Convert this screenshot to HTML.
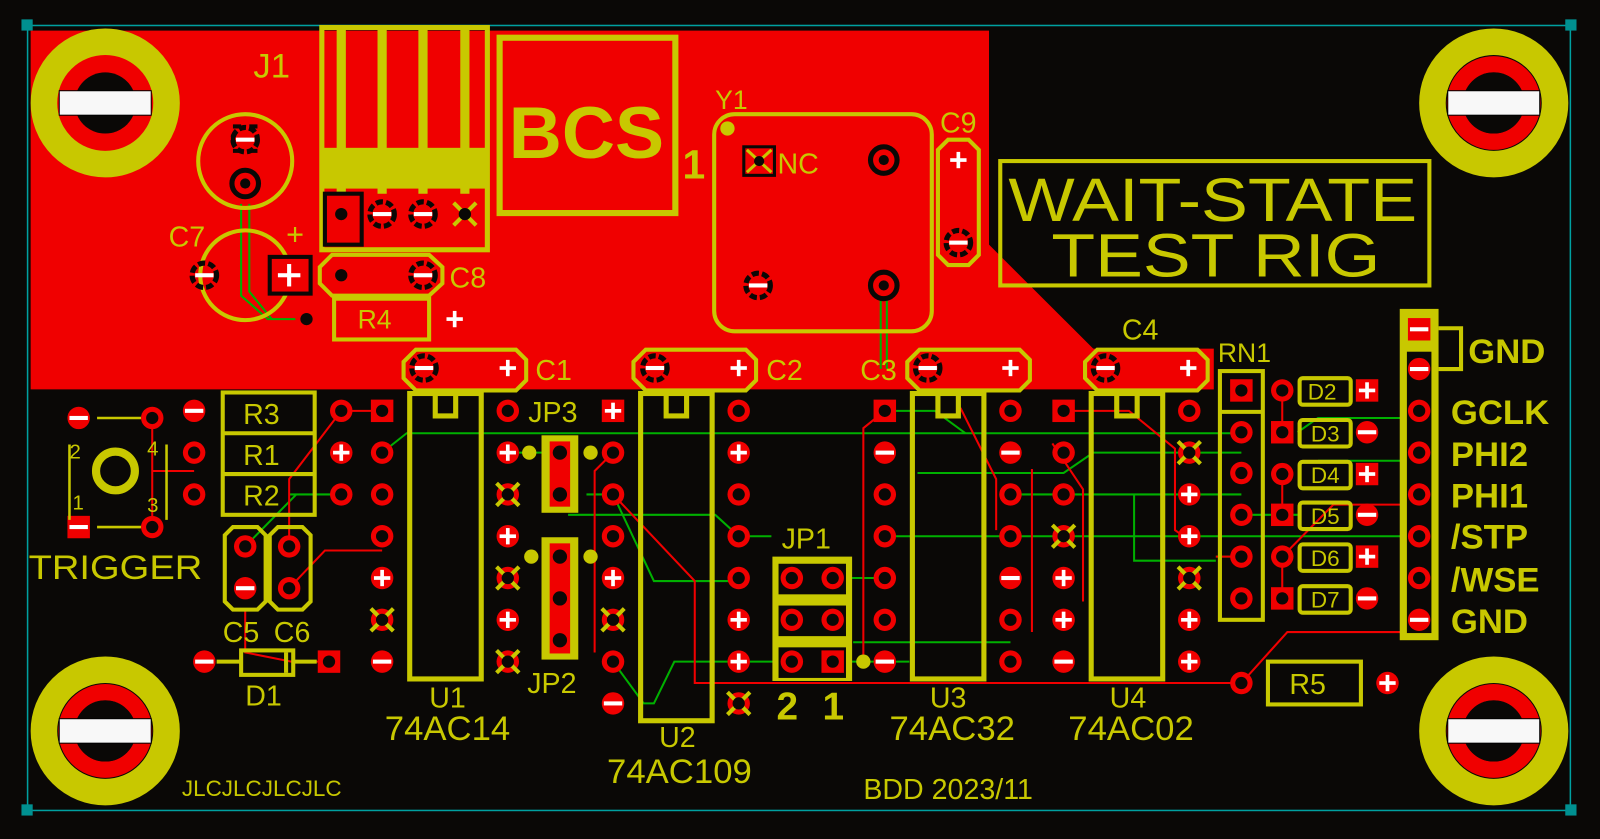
<!DOCTYPE html>
<html><head><meta charset="utf-8"><style>
html,body{margin:0;padding:0;background:#0a0806;overflow:hidden}
svg{display:block}
text{font-family:"Liberation Sans",sans-serif;fill:#c8c800}
</style></head><body>
<svg width="1600" height="839" viewBox="0 0 1566 823" preserveAspectRatio="none" xmlns="http://www.w3.org/2000/svg">
<defs>
<g id="p"><circle r="11" fill="#f00000"/><circle r="6" fill="#0a0806"/></g>
<g id="pp"><circle r="11" fill="#f00000"/><rect x="-8" y="-1.8" width="16" height="3.6" fill="#fff"/><rect x="-1.8" y="-8" width="3.6" height="16" fill="#fff"/></g>
<g id="pm"><circle r="11" fill="#f00000"/><rect x="-9" y="-2" width="18" height="4" fill="#fff"/></g>
<g id="px"><circle r="11" fill="#f00000"/><path d="M-11-11L11 11M11-11L-11 11" stroke="#c8c800" stroke-width="4"/><circle r="6" fill="#0a0806"/></g>
<g id="sq"><rect x="-11" y="-11" width="22" height="22" fill="#f00000"/><circle r="6" fill="#0a0806"/></g>
<g id="sqp"><rect x="-11" y="-11" width="22" height="22" fill="#f00000"/><rect x="-8" y="-1.8" width="16" height="3.6" fill="#fff"/><rect x="-1.8" y="-8" width="3.6" height="16" fill="#fff"/></g>
<g id="sqm"><rect x="-11" y="-11" width="22" height="22" fill="#f00000"/><rect x="-9" y="-2" width="18" height="4" fill="#fff"/></g>
<g id="rm"><circle r="12" fill="none" stroke="#0a0806" stroke-width="5" stroke-dasharray="7 3"/><rect x="-9" y="-2" width="18" height="4" fill="#fff"/></g>
<g id="hole"><circle r="60" fill="none" stroke="#c8c800" stroke-width="26"/><circle r="38" fill="none" stroke="#f00000" stroke-width="16"/><circle r="30" fill="#0a0806"/><rect x="-45" y="-12" width="90" height="24" fill="#f8f8f8" stroke="#000" stroke-width="1"/></g>
</defs>

<!-- red copper pour -->
<path d="M30 30H968V240L1110 382H30Z" fill="#f00000"/>
<rect x="1060" y="342" width="128" height="40" fill="#f00000"/>

<!-- board outline -->
<rect x="27" y="25" width="1510" height="770" fill="none" stroke="#00a0a0" stroke-width="1.5"/>
<rect x="21" y="19" width="11" height="11" fill="#009090"/>
<rect x="1532" y="19" width="11" height="11" fill="#009090"/>
<rect x="21" y="789" width="11" height="11" fill="#009090"/>
<rect x="1532" y="789" width="11" height="11" fill="#009090"/>

<use href="#hole" x="103" y="101"/>
<use href="#hole" x="1462" y="101"/>
<use href="#hole" x="103" y="717"/>
<use href="#hole" x="1462" y="717"/>

<!-- traces green -->
<g stroke="#00b000" stroke-width="2" fill="none">
<path d="M236 200V290L262 313H300"/><path d="M244 200V286L266 313"/>
<path d="M862 290V362"/><path d="M868 290V362"/>
<path d="M374 444L398 425H1000L1215 425"/>
<path d="M497 444H548"/><path d="M574 485H600"/>
<path d="M556 505H700L723 526H755"/>
<path d="M600 485L640 570H723"/>
<path d="M866 403H915L945 425"/>
<path d="M898 464H1041L1070 444H1215"/>
<path d="M989 485H1215"/>
<path d="M866 526H1390"/><path d="M1215 505H1270"/>
<path d="M1270 424L1290 410H1389"/><path d="M1290 452H1389"/>
<path d="M1190 546L1215 546"/>
<path d="M600 649L630 690H640L660 649H890"/>
<path d="M775 567H866"/><path d="M835 630H900L989 630"/>
<path d="M283 485H334"/><path d="M240 536L290 485"/>
<path d="M1110 485V550L1190 550"/>
</g>
<!-- traces red -->
<g stroke="#f00000" stroke-width="2" fill="none">
<path d="M334 403H374"/><path d="M283 536L283 470L334 403"/>
<path d="M283 577L318 540H374"/>
<path d="M240 597V640L285 649H322"/>
<path d="M149 410V517"/><path d="M149 462H190"/>
<path d="M600 444L582 462V640"/>
<path d="M600 485L680 570V670H1215"/>
<path d="M866 403L845 420V650"/>
<path d="M1041 403H1105L1150 440V520L1164 530"/>
<path d="M1010 460V620"/><path d="M1030 435L1060 480V590"/>
<path d="M1255 383V424"/><path d="M1255 465V505"/><path d="M1255 546V587"/>
<path d="M1215 670L1260 620H1389"/><path d="M1255 546L1305 495H1389"/>
<path d="M1215 546H1190"/>
<path d="M940 400L975 470V520"/>
</g>

<!-- J1 -->
<rect x="315" y="27" width="162" height="218" fill="none" stroke="#c8c800" stroke-width="5"/>
<rect x="315" y="145" width="162" height="40" fill="#c8c800"/>
<path d="M334 27V190M374 27V190M414 27V190M455 27V190" stroke="#c8c800" stroke-width="9"/>
<rect x="318" y="190" width="36" height="50" fill="#f00000" stroke="#0a0806" stroke-width="4"/>
<use href="#p" x="334" y="210"/><use href="#rm" x="374" y="210"/><use href="#rm" x="414" y="210"/><use href="#px" x="455" y="210"/>
<text x="248" y="76" font-size="34">J1</text>

<!-- upper-left parts -->
<circle cx="240" cy="158" r="46" fill="none" stroke="#c8c800" stroke-width="4"/>
<rect x="228" y="124" width="24" height="24" fill="none" stroke="#0a0806" stroke-width="4" stroke-dasharray="8 8"/>
<use href="#rm" x="240" y="137"/>
<circle cx="240" cy="180" r="13" fill="#f00000" stroke="#0a0806" stroke-width="5"/><circle cx="240" cy="180" r="5" fill="#0a0806"/>
<circle cx="240" cy="270" r="44" fill="none" stroke="#c8c800" stroke-width="4"/>
<use href="#rm" x="200" y="270"/>
<rect x="264" y="252" width="40" height="36" fill="#f00000" stroke="#0a0806" stroke-width="4"/>
<rect x="272" y="268" width="22" height="4" fill="#fff"/><rect x="281" y="259" width="4" height="22" fill="#fff"/>
<text x="165" y="242" font-size="28">C7</text><text x="280" y="240" font-size="30">+</text>
<path d="M325 250H420L433 262V278L420 290H325L313 278V262Z" fill="none" stroke="#c8c800" stroke-width="4"/>
<use href="#p" x="334" y="270"/><use href="#rm" x="414" y="270"/>
<text x="440" y="282" font-size="28">C8</text>
<rect x="327" y="293" width="93" height="40" fill="none" stroke="#c8c800" stroke-width="4"/>
<text x="350" y="322" font-size="26">R4</text>
<use href="#p" x="300" y="313"/><use href="#pp" x="445" y="313"/>

<!-- BCS -->
<rect x="489" y="37" width="172" height="172" fill="none" stroke="#c8c800" stroke-width="6"/>
<text x="498" y="155" font-size="72" font-weight="bold" textLength="152" lengthAdjust="spacingAndGlyphs">BCS</text>
<text x="668" y="175" font-size="40" font-weight="bold">1</text>

<!-- Y1 -->
<rect x="699" y="112" width="213" height="213" rx="20" fill="none" stroke="#c8c800" stroke-width="4"/>
<text x="700" y="107" font-size="26">Y1</text><circle cx="712" cy="126" r="7" fill="#c8c800"/>
<rect x="728" y="144" width="30" height="28" fill="#f00000" stroke="#0a0806" stroke-width="3"/>
<path d="M731 147L755 169M755 147L731 169" stroke="#c8c800" stroke-width="3"/><circle cx="743" cy="158" r="5" fill="#0a0806"/>
<text x="761" y="170" font-size="28">NC</text>
<circle cx="865" cy="157" r="13" fill="#f00000" stroke="#0a0806" stroke-width="5"/><circle cx="865" cy="157" r="5" fill="#0a0806"/>
<circle cx="865" cy="280" r="13" fill="#f00000" stroke="#0a0806" stroke-width="5"/><circle cx="865" cy="280" r="5" fill="#0a0806"/>
<use href="#rm" x="742" y="280"/>
<!-- C9 -->
<path d="M928 137H948L958 147V250L948 260H928L918 250V147Z" fill="none" stroke="#c8c800" stroke-width="4"/>
<use href="#sqp" x="938" y="157"/><use href="#rm" x="938" y="238"/>
<text x="920" y="130" font-size="28">C9</text>

<!-- title -->
<rect x="979" y="158" width="420" height="122" fill="none" stroke="#c8c800" stroke-width="4"/>
<text x="987" y="217" font-size="60" textLength="400" lengthAdjust="spacingAndGlyphs">WAIT-STATE</text>
<text x="1029" y="271" font-size="60" textLength="322" lengthAdjust="spacingAndGlyphs">TEST RIG</text>

<!-- capacitors C1-C4 -->
<g fill="none" stroke="#c8c800" stroke-width="4">
<path d="M407 343H505L515 353V373L505 383H407L395 371V355Z"/>
<path d="M632 343H730L740 353V373L730 383H632L620 371V355Z"/>
<path d="M900 343H998L1008 353V373L998 383H900L888 371V355Z"/>
<path d="M1074 343H1172L1182 353V373L1172 383H1074L1062 371V355Z"/>
</g>
<use href="#rm" x="415" y="361"/><use href="#sqp" x="497" y="361"/>
<use href="#rm" x="641" y="361"/><use href="#sqp" x="723" y="361"/>
<use href="#rm" x="908" y="361"/><use href="#sqp" x="989" y="361"/>
<use href="#rm" x="1082" y="361"/><use href="#sqp" x="1163" y="361"/>
<text x="524" y="373" font-size="28">C1</text><text x="750" y="373" font-size="28">C2</text>
<text x="842" y="373" font-size="28">C3</text><text x="1098" y="333" font-size="28">C4</text>

<!-- ICs -->
<g fill="none" stroke="#c8c800" stroke-width="5">
<rect x="401" y="386" width="70" height="280"/><path d="M426 386V408H446V386"/>
<rect x="627" y="386" width="70" height="321"/><path d="M652 386V408H672V386"/>
<rect x="893" y="386" width="70" height="280"/><path d="M918 386V408H938V386"/>
<rect x="1068" y="386" width="70" height="280"/><path d="M1093 386V408H1113V386"/>
</g>
<text x="438" y="694" font-size="28" text-anchor="middle">U1</text>
<text x="438" y="726" font-size="34" text-anchor="middle">74AC14</text>
<text x="663" y="733" font-size="28" text-anchor="middle">U2</text>
<text x="665" y="768" font-size="34" text-anchor="middle">74AC109</text>
<text x="928" y="694" font-size="28" text-anchor="middle">U3</text>
<text x="932" y="726" font-size="34" text-anchor="middle">74AC32</text>
<text x="1104" y="694" font-size="28" text-anchor="middle">U4</text>
<text x="1107" y="726" font-size="34" text-anchor="middle">74AC02</text>

<!-- U1 pins -->
<use href="#sq" x="374" y="403"/><use href="#p" x="374" y="444"/><use href="#p" x="374" y="485"/><use href="#p" x="374" y="526"/><use href="#pp" x="374" y="567"/><use href="#px" x="374" y="608"/><use href="#pm" x="374" y="649"/>
<use href="#p" x="497" y="403"/><use href="#pp" x="497" y="444"/><use href="#px" x="497" y="485"/><use href="#pp" x="497" y="526"/><use href="#px" x="497" y="567"/><use href="#pp" x="497" y="608"/><use href="#px" x="497" y="649"/>
<!-- U2 pins -->
<use href="#sqp" x="600" y="403"/><use href="#p" x="600" y="444"/><use href="#p" x="600" y="485"/><use href="#p" x="600" y="526"/><use href="#pp" x="600" y="567"/><use href="#px" x="600" y="608"/><use href="#p" x="600" y="649"/><use href="#pm" x="600" y="690"/>
<use href="#p" x="723" y="403"/><use href="#pp" x="723" y="444"/><use href="#p" x="723" y="485"/><use href="#p" x="723" y="526"/><use href="#p" x="723" y="567"/><use href="#pp" x="723" y="608"/><use href="#pp" x="723" y="649"/><use href="#px" x="723" y="690"/>
<!-- U3 pins -->
<use href="#sq" x="866" y="403"/><use href="#pm" x="866" y="444"/><use href="#p" x="866" y="485"/><use href="#p" x="866" y="526"/><use href="#p" x="866" y="567"/><use href="#p" x="866" y="608"/><use href="#pm" x="866" y="649"/>
<use href="#p" x="989" y="403"/><use href="#pm" x="989" y="444"/><use href="#p" x="989" y="485"/><use href="#p" x="989" y="526"/><use href="#pm" x="989" y="567"/><use href="#p" x="989" y="608"/><use href="#p" x="989" y="649"/>
<!-- U4 pins -->
<use href="#sq" x="1041" y="403"/><use href="#p" x="1041" y="444"/><use href="#p" x="1041" y="485"/><use href="#px" x="1041" y="526"/><use href="#pp" x="1041" y="567"/><use href="#pp" x="1041" y="608"/><use href="#pm" x="1041" y="649"/>
<use href="#p" x="1164" y="403"/><use href="#px" x="1164" y="444"/><use href="#pp" x="1164" y="485"/><use href="#pp" x="1164" y="526"/><use href="#px" x="1164" y="567"/><use href="#pp" x="1164" y="608"/><use href="#pp" x="1164" y="649"/>

<!-- JP3 / JP2 -->
<rect x="530" y="427" width="36" height="76" fill="#c8c800"/>
<rect x="538" y="433" width="20" height="64" fill="#f00000"/>
<circle cx="548" cy="444" r="7" fill="#0a0806"/><circle cx="548" cy="485" r="7" fill="#0a0806"/>
<circle cx="518" cy="444" r="7" fill="#c8c800"/><circle cx="578" cy="444" r="7" fill="#c8c800"/>
<text x="517" y="414" font-size="28">JP3</text>
<rect x="530" y="527" width="36" height="120" fill="#c8c800"/>
<rect x="538" y="533" width="20" height="108" fill="#f00000"/>
<circle cx="548" cy="546" r="7" fill="#0a0806"/><circle cx="548" cy="587" r="7" fill="#0a0806"/><circle cx="548" cy="628" r="7" fill="#0a0806"/>
<circle cx="520" cy="546" r="7" fill="#c8c800"/><circle cx="578" cy="546" r="7" fill="#c8c800"/>
<text x="516" y="680" font-size="28">JP2</text>

<!-- JP1 -->
<rect x="756" y="546" width="78" height="122" fill="#c8c800"/>
<rect x="762" y="553" width="66" height="30" fill="#0a0806"/><rect x="762" y="594" width="66" height="30" fill="#0a0806"/><rect x="762" y="635" width="66" height="30" fill="#0a0806"/>
<use href="#p" x="775" y="567"/><use href="#p" x="815" y="567"/><use href="#p" x="775" y="608"/><use href="#p" x="815" y="608"/><use href="#p" x="775" y="649"/><use href="#sq" x="815" y="649"/>
<circle cx="845" cy="649" r="7" fill="#c8c800"/>
<text x="765" y="538" font-size="28">JP1</text>
<text x="760" y="706" font-size="38" font-weight="bold">2</text><text x="805" y="706" font-size="38" font-weight="bold">1</text>

<!-- left bottom -->
<use href="#pm" x="77" y="410"/><use href="#p" x="149" y="410"/><use href="#sqm" x="77" y="517"/><use href="#p" x="149" y="517"/>
<path d="M95 410H138M95 517H138M68 436V510M163 436V510" stroke="#c8c800" stroke-width="2.5"/>
<circle cx="113" cy="462" r="19" fill="none" stroke="#c8c800" stroke-width="8"/>
<text x="68" y="450" font-size="20">2</text><text x="144" y="447" font-size="20">4</text>
<text x="71" y="500" font-size="20">1</text><text x="144" y="502" font-size="20">3</text>
<text x="28" y="568" font-size="34" textLength="170" lengthAdjust="spacingAndGlyphs">TRIGGER</text>
<rect x="218" y="385" width="90" height="120" fill="none" stroke="#c8c800" stroke-width="4"/>
<path d="M218 425H308M218 465H308" stroke="#c8c800" stroke-width="4"/>
<text x="238" y="416" font-size="28">R3</text><text x="238" y="456" font-size="28">R1</text><text x="238" y="496" font-size="28">R2</text>
<use href="#pm" x="190" y="403"/><use href="#p" x="190" y="444"/><use href="#p" x="190" y="485"/>
<use href="#p" x="334" y="403"/><use href="#pp" x="334" y="444"/><use href="#p" x="334" y="485"/>
<path d="M228 517H252L260 525V590L252 598H228L220 590V525Z M272 517H296L304 525V590L296 598H272L264 590V525Z" fill="none" stroke="#c8c800" stroke-width="4"/>
<use href="#p" x="240" y="536"/><use href="#pm" x="240" y="577"/><use href="#p" x="283" y="536"/><use href="#p" x="283" y="577"/>
<text x="218" y="630" font-size="28">C5</text><text x="268" y="630" font-size="28">C6</text>
<rect x="236" y="638" width="51" height="24" fill="none" stroke="#c8c800" stroke-width="4"/>
<path d="M212 649H236M287 649H310M280 640V660" stroke="#c8c800" stroke-width="4"/>
<use href="#pm" x="200" y="649"/><use href="#sq" x="322" y="649"/>
<text x="240" y="692" font-size="28">D1</text>

<!-- RN1 -->
<rect x="1194" y="364" width="42" height="244" fill="none" stroke="#c8c800" stroke-width="4"/>
<path d="M1194 404H1236" stroke="#c8c800" stroke-width="4"/>
<text x="1192" y="355" font-size="26">RN1</text>
<use href="#sq" x="1215" y="383"/><use href="#p" x="1215" y="424"/><use href="#p" x="1215" y="464"/><use href="#p" x="1215" y="505"/><use href="#p" x="1215" y="546"/><use href="#p" x="1215" y="587"/>
<!-- D2-D7 -->
<g fill="none" stroke="#c8c800" stroke-width="4">
<rect x="1272" y="371" width="50" height="26" rx="3"/><rect x="1272" y="412" width="50" height="26" rx="3"/><rect x="1272" y="453" width="50" height="26" rx="3"/><rect x="1272" y="493" width="50" height="26" rx="3"/><rect x="1272" y="534" width="50" height="26" rx="3"/><rect x="1272" y="575" width="50" height="26" rx="3"/>
</g>
<g font-size="22"><text x="1280" y="392">D2</text><text x="1283" y="433">D3</text><text x="1283" y="474">D4</text><text x="1283" y="514">D5</text><text x="1283" y="555">D6</text><text x="1283" y="596">D7</text></g>
<use href="#p" x="1255" y="383"/><use href="#sq" x="1255" y="424"/><use href="#p" x="1255" y="465"/><use href="#sq" x="1255" y="505"/><use href="#p" x="1255" y="546"/><use href="#sq" x="1255" y="587"/>
<use href="#sqp" x="1338" y="383"/><use href="#pm" x="1338" y="424"/><use href="#sqp" x="1338" y="465"/><use href="#pm" x="1338" y="505"/><use href="#sqp" x="1338" y="546"/><use href="#pm" x="1338" y="587"/>

<!-- connector -->
<rect x="1370" y="303" width="38" height="325" fill="#c8c800"/>
<rect x="1377" y="345" width="24" height="276" fill="#0a0806"/>
<path d="M1408 322H1430V362H1408" fill="none" stroke="#c8c800" stroke-width="4"/>
<use href="#sqm" x="1389" y="323"/><use href="#pm" x="1389" y="362"/><use href="#p" x="1389" y="403"/><use href="#p" x="1389" y="444"/><use href="#p" x="1389" y="485"/><use href="#p" x="1389" y="526"/><use href="#p" x="1389" y="567"/><use href="#pm" x="1389" y="608"/>
<g font-size="34" font-weight="bold"><text x="1437" y="356">GND</text><text x="1420" y="416">GCLK</text><text x="1420" y="457">PHI2</text><text x="1420" y="498">PHI1</text><text x="1420" y="538">/STP</text><text x="1420" y="580">/WSE</text><text x="1420" y="621">GND</text></g>

<!-- R5 -->
<rect x="1241" y="649" width="91" height="42" fill="none" stroke="#c8c800" stroke-width="4"/>
<text x="1262" y="681" font-size="28">R5</text>
<use href="#p" x="1215" y="670"/><use href="#pp" x="1358" y="670"/>

<text x="178" y="781" font-size="22">JLCJLCJLCJLC</text>
<text x="845" y="784" font-size="28">BDD 2023/11</text>
</svg>
</body></html>
